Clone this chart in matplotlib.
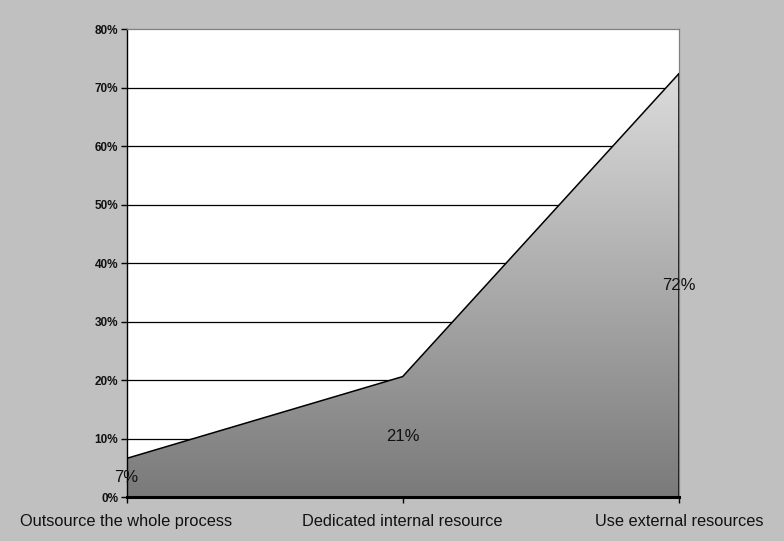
import matplotlib.pyplot as plt
import numpy as np
from matplotlib.colors import LinearSegmentedColormap
from matplotlib.ticker import FuncFormatter

plt.rcParams['font.family'] = ['Liberation Sans', 'DejaVu Sans']

categories = ['Outsource the whole process', 'Dedicated internal resource', 'Use external resources']
shares = [0.066, 0.206, 0.724]
yticks = [0, 0.1, 0.2, 0.3, 0.4, 0.5, 0.6, 0.7, 0.8]

bg = '#c0c0c0'
fig = plt.figure(figsize=(7.84, 5.41), dpi=100, facecolor=bg)
ax = fig.add_axes([0.1614, 0.0813, 0.7044, 0.8645])
ax.set_facecolor('white')

x = np.arange(len(categories))
ax.set_xlim(0, len(categories) - 1)
ax.set_ylim(0, 0.8)

# gridlines
for t in yticks[1:-1]:
    ax.axhline(t, color='black', lw=0.9, zorder=1)

# gradient fill clipped to the area polygon
poly = ax.fill_between(x, 0, shares, facecolor='none', edgecolor='none', zorder=2)
grad = np.linspace(0, 1, 256).reshape(-1, 1)
cmap = LinearSegmentedColormap.from_list('g', ['#7a7a7a', '#dcdcdc'])
img = ax.imshow(grad, cmap=cmap, origin='lower', aspect='auto',
                extent=[0, len(categories) - 1, 0, max(shares)], zorder=2)
img.set_clip_path(poly.get_paths()[0], transform=ax.transData)

ax.plot(x, shares, color='black', lw=1.1, zorder=3)
ax.plot([x[-1], x[-1]], [0, shares[-1]], color='black', lw=1.1, zorder=3)

for xi, v in zip(x, shares):
    ax.text(xi, v / 2, f'{v:.0%}', ha='center', va='center', fontsize=12,
            color='#111111', zorder=4)

for side in ['top', 'right']:
    ax.spines[side].set_color('#808080')
    ax.spines[side].set_linewidth(0.9)
ax.spines['left'].set_color('black')
ax.spines['left'].set_linewidth(1.0)
ax.spines['bottom'].set_color('black')
ax.spines['bottom'].set_linewidth(2.2)
ax.spines['bottom'].set_zorder(5)

ax.set_yticks(yticks)
ax.yaxis.set_major_formatter(FuncFormatter(lambda v, p: f'{v:.0%}'))
ax.tick_params(axis='y', direction='out', length=4, width=1, labelsize=8.5, pad=2,
               labelcolor='#111111')
for lab in ax.get_yticklabels():
    lab.set_fontweight('bold')

ax.set_xticks(x)
ax.set_xticklabels(categories, fontsize=11.8, color='#111111')
ax.tick_params(axis='x', direction='out', length=4, width=1, pad=8)

fig.savefig('out.png', dpi=100, facecolor=bg)
